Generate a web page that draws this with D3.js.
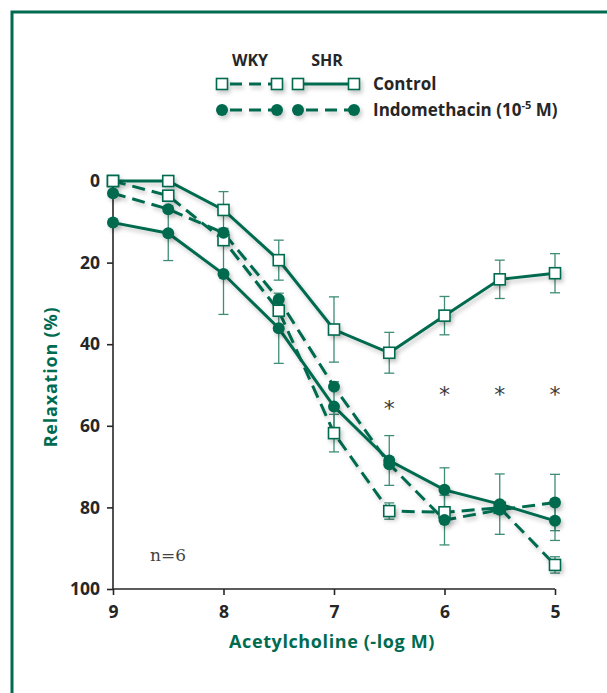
<!DOCTYPE html>
<html>
<head>
<meta charset="utf-8">
<script src="https://cdn.jsdelivr.net/npm/d3@7"></script>
<style>
  body { margin: 0; background: #fff; }
  svg { display: block; }
  text { font-family: "Open Sans", Lato, sans-serif; }
</style>
</head>
<body>
<script>
// Doses (-log M) shared by every series
const doses = [9, 8.5, 8, 7.5, 7, 6.5, 6, 5.5, 5];

// Relaxation (%), with error bar half widths (null = no bar)
const shrControl = [0, 0, 7.1, 19.4, 36.4, 42.1, 33, 24.1, 22.6];
const shrControlErr = [null, null, 4.5, 4.9, 8, 5, 4.7, 4.7, 4.8];
const wkyControl = [0, 3.6, 14.5, 31.8, 61.8, 80.9, 81.2, 80.1, 94.1];
const wkyControlErr = [null, null, null, null, 4.6, 2, null, null, 2];
const solidIndo = [10.2, 12.8, 22.8, 36.1, 55.3, 68.5, 75.7, 79.2, 83.3];
const solidIndoErr = [null, 6.7, 9.9, 8.6, 6.1, 6.1, 5.4, 7.4, 4.8];
const dashedIndo = [3, 6.9, 12.7, 29, 50.4, 69.4, 83.1, 80.6, 78.8];
const dashedIndoErr = [null, null, null, null, null, null, 6.1, null, 6.9];

// Significance marks
const starDoses = [6.5, 6, 5.5, 5];
const starValues = [54.5, 51, 51, 51];

const xTicks = [9, 8, 7, 6, 5];
const yTicks = [0, 20, 40, 60, 80, 100];

const GREEN = "#006b50";
const ERR = "#3f8c77";
const INK = "#262626";

const width = 607, height = 693;

const svg = d3.select("body").append("svg")
    .attr("width", width)
    .attr("height", height);

// Soft shadow under the curves
const defs = svg.append("defs");
const f = defs.append("filter").attr("id", "shadow")
    .attr("x", "-10%").attr("y", "-10%").attr("width", "130%").attr("height", "130%");
f.append("feDropShadow").attr("dx", 2).attr("dy", 3).attr("stdDeviation", 2)
    .attr("flood-color", "#000").attr("flood-opacity", 0.22);

// Frame
svg.append("path")
    .attr("d", `M12,${height} V12 H${width}`)
    .attr("fill", "none").attr("stroke", GREEN).attr("stroke-width", 3);

const x = d3.scaleLinear().domain([9, 5]).range([113, 555]);
const y = d3.scaleLinear().domain([0, 100]).range([181, 589]);

// Axes
const xAxis = svg.append("g").attr("transform", `translate(0,${y(100)})`)
    .call(d3.axisBottom(x).tickValues(xTicks).tickSize(6).tickPadding(7)
        .tickFormat(d3.format("d")));
const yAxis = svg.append("g").attr("transform", `translate(${x(9)},0)`)
    .call(d3.axisLeft(y).tickValues(yTicks).tickSize(6).tickPadding(7));
[xAxis, yAxis].forEach(a => {
  a.select(".domain").attr("stroke", INK).attr("stroke-width", 1.6);
  a.selectAll(".tick line").attr("stroke", INK).attr("stroke-width", 1.6);
  a.selectAll(".tick text").attr("fill", INK)
      .style("font-size", "17.5px").style("font-weight", "bold");
});
yAxis.select(".domain").attr("d", `M0,${y(0)}V${y(100)}`);
xAxis.select(".domain").attr("d", `M${x(9)},0H${x(5)}`);
xAxis.selectAll(".tick text").attr("dy", "0.9em");

// Axis titles
svg.append("text")
    .attr("x", 332).attr("y", 648).attr("text-anchor", "middle")
    .attr("fill", GREEN).style("font-size", "18px").style("font-weight", "bold")
    .style("letter-spacing", "0.6px")
    .text("Acetylcholine (-log M)");
svg.append("text")
    .attr("transform", "translate(57,377) rotate(-90)").attr("text-anchor", "middle")
    .attr("fill", GREEN).style("font-size", "18px").style("font-weight", "bold")
    .style("letter-spacing", "0.8px")
    .text("Relaxation (%)");

const series = [
  { values: shrControl, err: shrControlErr, dashed: false, marker: "square" },
  { values: wkyControl, err: wkyControlErr, dashed: true, marker: "square" },
  { values: solidIndo, err: solidIndoErr, dashed: false, marker: "circle" },
  { values: dashedIndo, err: dashedIndoErr, dashed: true, marker: "circle" }
];

const line = d3.line().x(d => x(d.dose)).y(d => y(d.v));

// Error bars
const errG = svg.append("g");
series.forEach(s => {
  const pts = doses.map((dose, i) => ({ dose, v: s.values[i], e: s.err[i] }))
      .filter(p => p.e != null);
  const g = errG.selectAll(null).data(pts).enter().append("g")
      .attr("stroke", ERR).attr("stroke-width", 1.3);
  g.append("line").attr("x1", p => x(p.dose)).attr("x2", p => x(p.dose))
      .attr("y1", p => y(p.v - p.e)).attr("y2", p => y(p.v + p.e));
  g.append("line").attr("x1", p => x(p.dose) - 5).attr("x2", p => x(p.dose) + 5)
      .attr("y1", p => y(p.v - p.e)).attr("y2", p => y(p.v - p.e));
  g.append("line").attr("x1", p => x(p.dose) - 5).attr("x2", p => x(p.dose) + 5)
      .attr("y1", p => y(p.v + p.e)).attr("y2", p => y(p.v + p.e));
});

// Lines
const lineG = svg.append("g").attr("filter", "url(#shadow)");
series.forEach(s => {
  const pts = doses.map((dose, i) => ({ dose, v: s.values[i] }));
  lineG.append("path").datum(pts).attr("d", line)
      .attr("fill", "none").attr("stroke", GREEN).attr("stroke-width", 3)
      .attr("stroke-dasharray", s.dashed ? "13,7" : null);
});

// Markers
function drawMarker(g, kind, cx, cy) {
  if (kind === "square") {
    g.append("rect").attr("x", cx - 5.5).attr("y", cy - 5.5)
        .attr("width", 11).attr("height", 11)
        .attr("fill", "#fff").attr("stroke", GREEN).attr("stroke-width", 1.6);
  } else {
    g.append("circle").attr("cx", cx).attr("cy", cy).attr("r", 6)
        .attr("fill", GREEN);
  }
}
const markG = svg.append("g").attr("filter", "url(#shadow)");
series.forEach(s => {
  doses.forEach((dose, i) => drawMarker(markG, s.marker, x(dose), y(s.values[i])));
});

// Asterisks
svg.append("g").selectAll("text").data(starDoses).enter().append("text")
    .attr("x", d => x(d)).attr("y", (d, i) => y(starValues[i]) + 13)
    .attr("text-anchor", "middle").attr("fill", "#3a3a3a")
    .style("font-size", "22px").style("font-family", "'DejaVu Sans'")
    .text("*");

// n label
svg.append("text").attr("x", 150).attr("y", 561)
    .attr("fill", "#444").style("font-size", "17px")
    .style("font-family", "'DejaVu Serif', serif")
    .text("n=6");

// Legend
const leg = svg.append("g");
leg.append("text").attr("x", 250).attr("y", 66).attr("text-anchor", "middle")
    .attr("fill", INK).style("font-size", "16px").style("font-weight", "bold").text("WKY");
leg.append("text").attr("x", 327).attr("y", 66).attr("text-anchor", "middle")
    .attr("fill", INK).style("font-size", "16px").style("font-weight", "bold").text("SHR");

const legRows = [
  { yy: 84, wkyDash: true, shrDash: false, marker: "square" },
  { yy: 110, wkyDash: true, shrDash: true, marker: "circle" }
];
const legLines = leg.append("g").attr("filter", "url(#shadow)");
legRows.forEach(r => {
  [[222, 277, r.wkyDash], [298, 354, r.shrDash]].forEach(([a, b, dash]) => {
    legLines.append("line").attr("x1", a).attr("x2", b).attr("y1", r.yy).attr("y2", r.yy)
        .attr("stroke", GREEN).attr("stroke-width", 3)
        .attr("stroke-dasharray", dash ? "12,7" : null)
        .attr("stroke-dashoffset", dash ? -8 : null);
    drawMarker(legLines, r.marker, a, r.yy);
    drawMarker(legLines, r.marker, b, r.yy);
  });
});
leg.append("text").attr("x", 373).attr("y", 90)
    .attr("fill", INK).style("font-size", "17px").style("font-weight", "bold").text("Control");
const indo = leg.append("text").attr("x", 373).attr("y", 116)
    .attr("fill", INK).style("font-size", "17px").style("font-weight", "bold");
indo.append("tspan").text("Indomethacin (10");
indo.append("tspan").attr("dy", -7).style("font-size", "11px").text("-5");
indo.append("tspan").attr("dy", 7).text(" M)");
</script>
</body>
</html>
